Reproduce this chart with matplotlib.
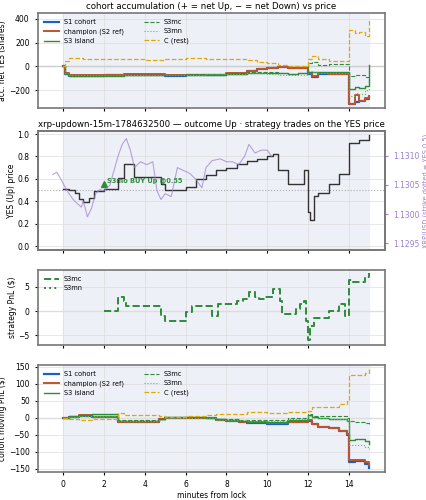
import matplotlib
matplotlib.use("Agg")
import matplotlib.pyplot as plt

# ---- data ----
t_acc = [0, 0.1, 0.3, 1, 2, 3, 4, 5, 6, 7, 8, 9, 9.5, 10, 10.5, 11, 11.5, 12, 12.2, 12.5, 13, 13.5, 14, 14.3, 14.5, 14.8, 15]
acc_s1 = [0, -60, -78, -78, -75, -72, -72, -78, -72, -70, -62, -40, -22, -15, -8, -15, -15, -60, -85, -62, -65, -65, -320, -300, -295, -270, -255]
acc_champ = [0, -58, -75, -75, -70, -65, -65, -72, -68, -68, -58, -35, -18, -12, -5, -12, -12, -58, -82, -58, -60, -60, -315, -240, -290, -265, -250]
acc_s3 = [0, -60, -78, -78, -78, -75, -75, -75, -72, -70, -62, -58, -58, -58, -58, -62, -58, -50, -50, -50, -45, -45, -190, -175, -178, -165, 10]
acc_s3mc = [0, -55, -72, -72, -72, -70, -70, -70, -66, -62, -55, -50, -50, -50, -55, -60, -55, 30, 40, 10, 20, 20, -80, -70, -75, -90, -140]
acc_s3mn = [0, -55, -72, -72, -72, -72, -72, -72, -68, -66, -60, -55, -55, -60, -70, -75, -70, -40, -45, -55, -55, -55, -250, -220, -230, -200, -170]
acc_c = [0, 50, 70, 65, 60, 60, 55, 60, 70, 65, 60, 55, 35, 25, 10, 0, 0, 60, 90, 60, 50, 50, 310, 280, 290, 260, 400]

t_yes = [0, 0.3, 0.6, 0.8, 1, 1.3, 1.5, 2, 2.7, 3, 3.5, 4, 4.5, 4.8, 5, 5.5, 6, 6.5, 7, 7.5, 8, 8.5, 9, 9.5, 10, 10.3, 10.5, 11, 11.5, 11.8, 12, 12.1, 12.3, 12.5, 13, 13.5, 14, 14.2, 14.5, 15]
yes_px = [0.51, 0.5, 0.47, 0.42, 0.39, 0.43, 0.49, 0.51, 0.61, 0.73, 0.62, 0.62, 0.62, 0.55, 0.5, 0.5, 0.53, 0.6, 0.63, 0.68, 0.7, 0.73, 0.76, 0.78, 0.8, 0.82, 0.68, 0.55, 0.55, 0.68, 0.3, 0.23, 0.45, 0.47, 0.55, 0.64, 0.92, 0.92, 0.95, 0.99]

t_xrp = [-0.5, -0.3, -0.1, 0.2, 0.5, 0.7, 0.9, 1.0, 1.2, 1.4, 1.6, 1.8, 2.0, 2.3, 2.5, 2.7, 2.9, 3.1, 3.3, 3.5, 3.8, 4.1, 4.4, 4.6, 4.8, 5.0, 5.3, 5.6, 5.9, 6.2, 6.5, 6.8, 7.0, 7.3, 7.7, 8.0, 8.3, 8.6, 8.9, 9.1, 9.4, 9.7, 10.0, 10.2]
xrp = [1.13068, 1.13072, 1.13060, 1.13040, 1.13025, 1.13018, 1.13012, 1.13022, 1.12995, 1.13010, 1.13035, 1.13042, 1.13040, 1.13050, 1.13075, 1.13100, 1.13120, 1.13130, 1.13110, 1.13080, 1.13090, 1.13085, 1.13090, 1.13040, 1.13025, 1.13035, 1.13030, 1.13080, 1.13075, 1.13070, 1.13060, 1.13045, 1.13080, 1.13092, 1.13095, 1.13090, 1.13090, 1.13085, 1.13100, 1.13120, 1.13105, 1.13110, 1.13110, 1.13100]

t_pnl = [2, 2.6, 2.7, 3.0, 3.1, 4.7, 4.8, 5.0, 6.0, 6.3, 7.3, 7.6, 8.5, 8.8, 9.1, 9.4, 9.6, 9.9, 10.3, 10.6, 10.7, 11.4, 11.6, 11.8, 11.9, 12.0, 12.1, 12.3, 12.8, 13.0, 13.5, 13.8, 14.0, 14.2, 14.8, 15]
pnl_s3mc = [0, 0, 3, 2, 1, 1, -1, -2, -0.2, 1, -1, 1.5, 2, 2.5, 4, 3, 2.5, 3, 4.5, 2, -0.5, 0.5, 1.5, 2, -2, -6, -3, -1.5, -1.5, 0, 1.5, -1, 6.5, 6, 7, 7.8]

t_mov = [0, 0.3, 0.8, 1.4, 2, 2.7, 3, 4, 4.7, 5, 6, 7, 7.5, 8, 8.6, 9, 10, 11, 11.5, 12, 12.2, 12.5, 13, 13.5, 13.9, 14, 14.3, 14.8, 15]
mov_s1 = [0, 2, 5, 2, 2, -14, -14, -14, -5, 0, 0, 0, -8, -10, -13, -15, -18, -12, -12, -10, -20, -28, -30, -38, -50, -130, -128, -135, -148]
mov_champ = [0, 2, 8, 2, 2, -12, -12, -12, -5, 0, 0, 0, -7, -9, -12, -14, -15, -12, -12, -8, -20, -28, -30, -38, -48, -125, -125, -130, -140]
mov_s3 = [0, 4, 8, 10, 10, -10, -10, -10, -5, 2, 2, 0, -5, -8, -10, -12, -13, -6, -6, 8, 3, 0, -3, -5, -10, -65, -62, -70, -78]
mov_s3mc = [0, 2, 4, 4, 4, -8, -8, -8, -4, 2, 2, 0, -5, -5, -6, -8, -8, -2, -2, 10, 5, 5, 5, 5, 0, -10, -12, -15, -20]
mov_s3mn = [0, 2, 4, 4, 4, -10, -10, -10, -6, 0, 0, 0, -6, -6, -8, -10, -10, -4, -4, 5, 0, -2, -3, -3, -10, -80, -80, -85, -92]
mov_c = [0, -3, -8, -5, -5, 15, 8, 8, 5, 2, 5, 8, 10, 10, 12, 18, 15, 18, 18, 20, 30, 30, 30, 40, 50, 125, 125, 130, 142]

BLUE, RED, GREEN, LGREEN, GOLD = "#1f5fbf", "#c0532b", "#2e8b3a", "#5cb85c", "#e0a800"
plt.rcParams.update({"font.size": 5.5, "axes.titlesize": 6.2, "axes.labelsize": 5.5,
                     "xtick.labelsize": 5.5, "ytick.labelsize": 5.5,
                     "xtick.major.size": 2.5, "ytick.major.size": 2.5})

fig = plt.figure(figsize=(4.27, 5.0), dpi=100)
W, H = 427.0, 500.0
def box(top, bottom, left=38, right=385):
    return [left / W, 1 - bottom / H, (right - left) / W, (bottom - top) / H]

ax1 = fig.add_axes(box(13, 108))
ax2 = fig.add_axes(box(131, 250))
ax3 = fig.add_axes(box(270, 345))
ax4 = fig.add_axes(box(365, 472))

for ax in (ax1, ax2, ax3, ax4):
    ax.set_xlim(-1.22, 15.76)
    ax.axvspan(0, 15, color="#eef0f8", zorder=0)
    ax.grid(True, color="#dddddd", lw=0.5)
    ax.set_axisbelow(True)
    for s in ax.spines.values():
        s.set_color("#777777"); s.set_linewidth(1.2)
    ax.set_xticks(range(0, 16, 2))
    if ax is not ax4:
        ax.set_xticklabels([])

# panel 1
ax1.axhline(0, color="#cccccc", lw=1)
ax1.step(t_acc, acc_s1, where="post", color=BLUE, lw=1.6, label="S1 cohort")
ax1.step(t_acc, acc_champ, where="post", color=RED, lw=1.4, label="champion (S2 ref)")
ax1.step(t_acc, acc_s3, where="post", color=GREEN, lw=1.0, label="S3 island")
ax1.step(t_acc, acc_s3mc, where="post", color=GREEN, lw=0.8, ls="--", label="S3mc")
ax1.step(t_acc, acc_s3mn, where="post", color=LGREEN, lw=0.8, ls=":", label="S3mn")
ax1.step(t_acc, acc_c, where="post", color=GOLD, lw=0.9, ls="--", label="C (rest)")
ax1.set_ylim(-350, 450)
ax1.set_yticks([-200, 0, 200, 400])
ax1.set_ylabel("acc. net YES (shares)", labelpad=1)
ax1.set_title("cohort accumulation (+ = net Up, − = net Down) vs price", pad=3)
ax1.legend(loc="upper left", ncol=2, fontsize=4.8, frameon=False, handlelength=2.2, columnspacing=3)

# panel 2
ax2.axhline(0.5, color="#aaaaaa", lw=0.8, ls=":")
ax2.step(t_yes, yes_px, where="post", color="#333333", lw=1.0)
ax2.set_ylim(-0.035, 1.027)
ax2.set_ylabel("YES (Up) price", labelpad=1)
ax2.set_title("xrp-updown-15m-1784632500 — outcome Up · strategy trades on the YES price", pad=3)
ax2.plot([2], [0.55], marker="^", color=GREEN, ms=5)
ax2.annotate("S3mo BUY Up @0.55", (2, 0.55), xytext=(2, 1), textcoords="offset points",
             color=GREEN, fontsize=4.8, fontweight="bold")
tw = ax2.twinx()
tw.plot(t_xrp, xrp, color="#9b7fcf", lw=0.8, alpha=0.7)
tw.set_ylim(1.12938, 1.13143)
tw.set_yticks([1.1295, 1.1300, 1.1305, 1.1310])
tw.set_yticklabels(["1.1295", "1.1300", "1.1305", "1.1310"], color="#9b7fcf")
tw.tick_params(axis="y", colors="#9b7fcf", labelsize=5.5)
tw.set_ylabel("XRP/USD (strike dotted = YES 0.5)", color="#9b7fcf", fontsize=4.8, labelpad=2)
for s in tw.spines.values():
    s.set_color("#777777"); s.set_linewidth(1.2)

# panel 3
ax3.axhline(0, color="#dddddd", lw=1)
ax3.step(t_pnl, pnl_s3mc, where="post", color=GREEN, lw=1.4, ls="--", label="S3mc")
ax3.plot([], [], color=GREEN, lw=1.4, ls=":", label="S3mn")
ax3.set_ylim(-7, 8.5)
ax3.set_yticks([-5, 0, 5])
ax3.set_ylabel("strategy PnL ($)", labelpad=1)
ax3.legend(loc="upper left", fontsize=4.8, frameon=False, handlelength=2.2)

# panel 4
ax4.axhline(0, color="#dddddd", lw=1)
ax4.step(t_mov, mov_s1, where="post", color=BLUE, lw=1.6, label="S1 cohort")
ax4.step(t_mov, mov_champ, where="post", color=RED, lw=1.4, label="champion (S2 ref)")
ax4.step(t_mov, mov_s3, where="post", color=GREEN, lw=1.0, label="S3 island")
ax4.step(t_mov, mov_s3mc, where="post", color=GREEN, lw=0.8, ls="--", label="S3mc")
ax4.step(t_mov, mov_s3mn, where="post", color=LGREEN, lw=0.8, ls=":", label="S3mn")
ax4.step(t_mov, mov_c, where="post", color=GOLD, lw=0.9, ls="--", label="C (rest)")
ax4.set_ylim(-160, 155)
ax4.set_yticks([-150, -100, -50, 0, 50, 100, 150])
ax4.set_ylabel("cohort moving PnL ($)", labelpad=1)
ax4.set_xlabel("minutes from lock", labelpad=1)
ax4.legend(loc="upper left", ncol=2, fontsize=4.8, frameon=False, handlelength=2.2, columnspacing=3)

fig.savefig("out.png", dpi=100)
